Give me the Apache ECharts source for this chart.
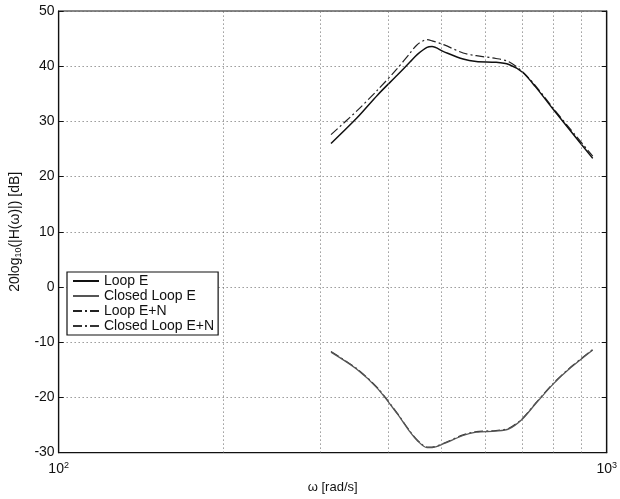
<!DOCTYPE html>
<html>
<head>
<meta charset="utf-8">
<script src="https://cdn.jsdelivr.net/npm/echarts@6/dist/echarts.min.js"></script>
<style>
  html, body { margin: 0; padding: 0; background: #fff; }
  #main { width: 620px; height: 499px; }
</style>
</head>
<body>
<div id="main"></div>
<script>
// frequency points [rad/s]
var omega = [314, 350, 382, 415, 438, 451, 470, 480, 504, 547, 578, 628, 663, 702, 741, 800, 860, 943];
// magnitudes [dB]
var loopE = [26.0, 30.6, 34.8, 38.4, 40.8, 42.1, 43.4, 43.55, 42.65, 41.3, 40.85, 40.7, 40.3, 38.9, 36.3, 32.1, 28.2, 23.3];
var closedLoopE = [-11.8, -14.9, -18.4, -23.0, -26.3, -27.8, -29.1, -29.1, -28.4, -26.9, -26.3, -26.1, -25.7, -23.9, -21.2, -17.5, -14.6, -11.4];
var loopEN = [27.6, 31.9, 35.7, 39.6, 42.4, 43.9, 44.8, 44.6, 43.9, 42.4, 41.9, 41.4, 40.8, 39.0, 36.5, 32.3, 28.5, 23.7];
var closedLoopEN = [-11.7, -14.8, -18.3, -22.9, -26.2, -27.7, -29.0, -29.0, -28.3, -26.8, -26.2, -26.0, -25.6, -23.8, -21.1, -17.4, -14.5, -11.3];
var minorX = [200, 300, 400, 500, 600, 700, 800, 900];
var yTicks = [-30, -20, -10, 0, 10, 20, 30, 40, 50];

function pairs(vals) {
  return omega.map(function (w, i) { return [w, vals[i]]; });
}

var chart = echarts.init(document.getElementById("main"));
var font = "Liberation Sans, Arial, sans-serif";
var dashDot = [9, 3, 2, 3];
var gridDots = { type: [1, 3], color: "#666", width: 1 };

var option = {
  animation: false,
  textStyle: { fontFamily: font },
  grid: {
    left: 57, right: 8, top: 11, bottom: 45,
    show: true, borderColor: "#111", borderWidth: 1.2, backgroundColor: "#fff"
  },
  legend: {
    orient: "vertical",
    left: 67, top: 272,
    itemWidth: 26, itemHeight: 12, itemGap: 1,
    padding: [2, 4, 2, 5],
    borderColor: "#111", borderWidth: 1.2,
    backgroundColor: "#fff",
    itemStyle: { opacity: 0 },
    textStyle: { fontSize: 14, color: "#111", fontFamily: font },
    data: ["Loop E", "Closed Loop E", "Loop E+N", "Closed Loop E+N"]
  },
  xAxis: [{
    type: "log", logBase: 10, min: 100, max: 1000,
    name: "ω [rad/s]", nameLocation: "middle", nameGap: 28,
    nameTextStyle: { fontSize: 13, color: "#111" },
    axisLine: { onZero: false, lineStyle: { color: "#111", width: 1.2 } },
    axisTick: { show: false },
    splitLine: { show: false },
    axisLabel: {
      color: "#111", fontSize: 14, margin: 8,
      formatter: function (v) { return "10{sup|" + Math.round(Math.log10(v)) + "}"; },
      rich: { sup: { fontSize: 9, verticalAlign: "top", padding: [0, 0, 8, 0], color: "#111" } }
    }
  }],
  yAxis: [{
    type: "value", min: yTicks[0], max: yTicks[yTicks.length - 1], interval: 10,
    name: "20log{sub|10}(|H(ω)|) [dB]", nameLocation: "middle", nameGap: 30,
    nameTextStyle: {
      fontSize: 14, color: "#111",
      rich: { sub: { fontSize: 9, padding: [8, 0, 0, 0], color: "#111" } }
    },
    axisLine: { show: true, lineStyle: { color: "#111", width: 1.2 } },
    axisTick: { show: true, inside: true, length: 5, lineStyle: { color: "#111" } },
    axisLabel: { color: "#111", fontSize: 14, margin: 4 },
    splitLine: { show: true, lineStyle: gridDots }
  }, {
    type: "value", position: "right", min: yTicks[0], max: yTicks[yTicks.length - 1], interval: 10,
    axisLine: { show: true, lineStyle: { color: "#111", width: 1.2 } },
    axisTick: { show: true, inside: true, length: 5, lineStyle: { color: "#111" } },
    axisLabel: { show: false },
    splitLine: { show: false }
  }],
  series: [{
    name: "Loop E", type: "line", data: pairs(loopE), smooth: 0.3,
    symbol: "none", lineStyle: { color: "#111", width: 1.5 }, itemStyle: { color: "#111" },
    z: 4,
    markLine: {
      silent: true, symbol: "none", label: { show: false },
      lineStyle: gridDots,
      data: minorX.map(function (x) { return { xAxis: x }; })
    }
  }, {
    name: "Closed Loop E", type: "line", data: pairs(closedLoopE), smooth: 0.3,
    symbol: "none", lineStyle: { color: "#555", width: 1.3 }, itemStyle: { color: "#555" }, z: 3
  }, {
    name: "Loop E+N", type: "line", data: pairs(loopEN), smooth: 0.3,
    symbol: "none", lineStyle: { color: "#222", width: 1.2, type: dashDot }, itemStyle: { color: "#222" }, z: 3
  }, {
    name: "Closed Loop E+N", type: "line", data: pairs(closedLoopEN), smooth: 0.3,
    symbol: "none", lineStyle: { color: "#333", width: 1.2, type: dashDot }, itemStyle: { color: "#333" }, z: 2
  }]
};

chart.setOption(option);
</script>
</body>
</html>
